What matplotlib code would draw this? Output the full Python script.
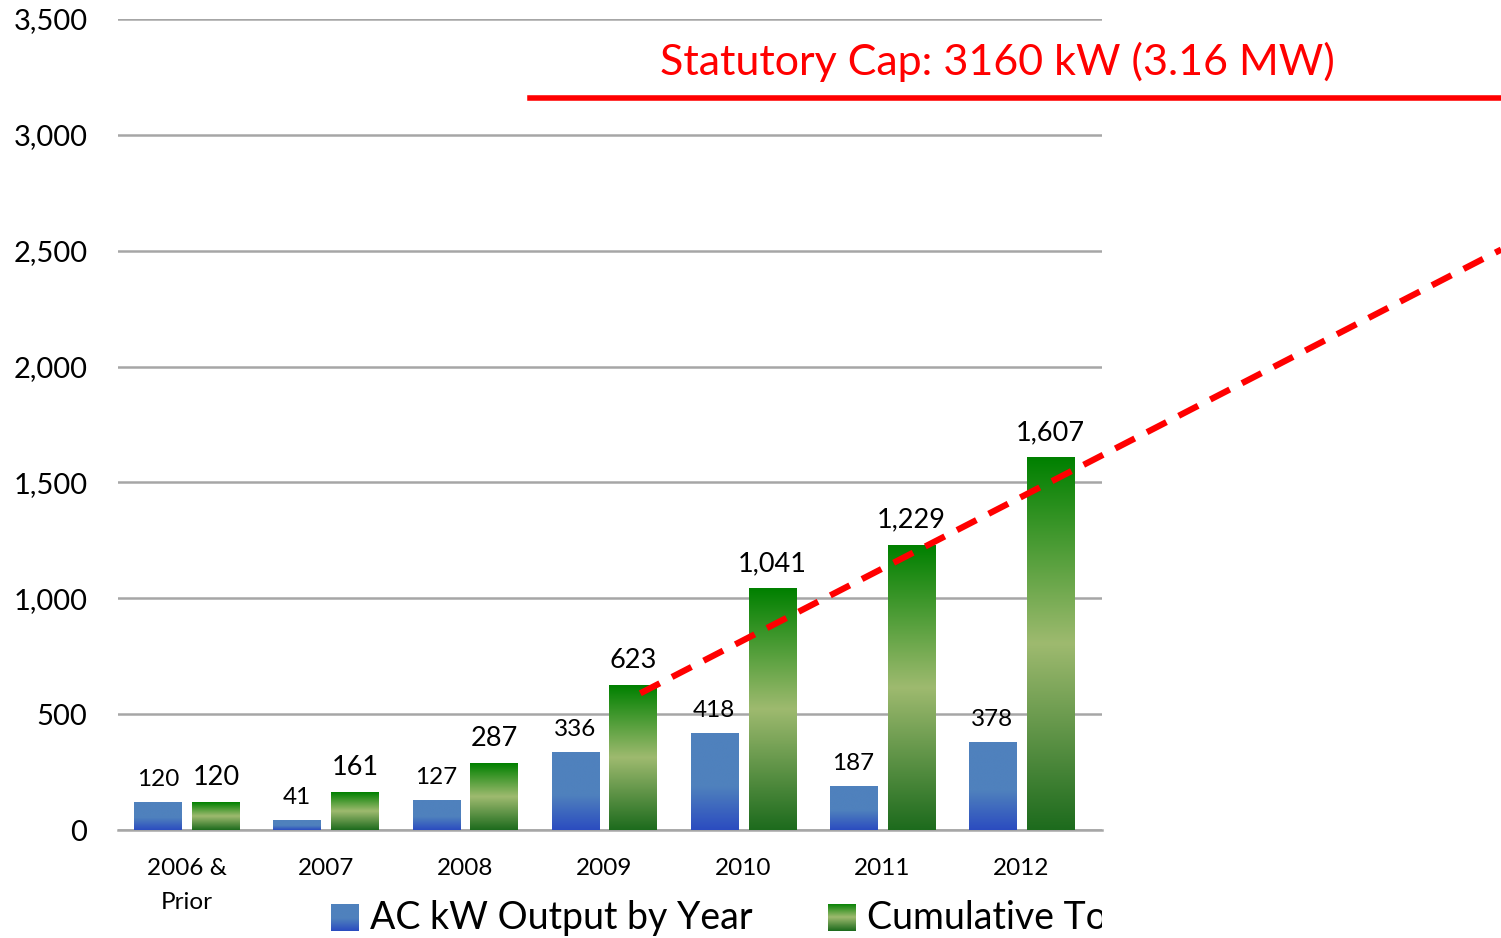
import matplotlib.pyplot as plt
import numpy as np
from matplotlib.colors import LinearSegmentedColormap
from matplotlib.transforms import Bbox, TransformedBbox

plt.rcParams['font.family'] = ['Lato', 'DejaVu Sans']

categories = ['2006 &\nPrior', '2007', '2008', '2009', '2010', '2011', '2012']
annual_kw = [120, 41, 127, 336, 418, 187, 378]
cumulative_kw = [120, 161, 287, 623, 1041, 1229, 1607]
cap_kw = 3160
cap_label = 'Statutory Cap: 3160 kW (3.16 MW)'
# projected trend line (category position, kW)
trend_x = [3.26, 9.45]
trend_y = [590, 2505]
legend_labels = ['AC kW Output by Year', 'Cumulative Total']

blue_cmap = LinearSegmentedColormap.from_list(
    'blue', [(0.0, '#2b4cc0'), (0.45, '#4f81bd'), (1.0, '#4f81bd')])
green_cmap = LinearSegmentedColormap.from_list(
    'green', [(0.0, '#1d6b1d'), (0.5, '#9eba6f'), (1.0, '#008000')])


def gradient_bar(ax, x, width, height, cmap):
    grad = np.linspace(1, 0, 256).reshape(-1, 1)
    ax.imshow(grad, cmap=cmap, aspect='auto', interpolation='bilinear',
              extent=[x - width / 2, x + width / 2, 0, height], zorder=3)


fig = plt.figure(figsize=(15.01, 9.38), dpi=100)
ax = fig.add_axes([0.0786, 0.1151, 0.6556, 0.8646])

width = 0.34
offset = 0.208
pos = np.arange(len(categories))

for i in pos:
    gradient_bar(ax, i - offset, width, annual_kw[i], blue_cmap)
    gradient_bar(ax, i + offset, width, cumulative_kw[i], green_cmap)
    ax.annotate(f'{annual_kw[i]:,}', (i - offset, annual_kw[i]),
                xytext=(0, 9), textcoords='offset points',
                ha='center', va='bottom', fontsize=17.5, zorder=5)
    ax.annotate(f'{cumulative_kw[i]:,}', (i + offset, cumulative_kw[i]),
                xytext=(0, 9), textcoords='offset points',
                ha='center', va='bottom', fontsize=19.5, zorder=5)

ax.set_xlim(-0.496, 6.58)
ax.set_ylim(0, 3500)
ax.set_yticks(np.arange(0, 3501, 500))
ax.set_yticklabels([f'{v:,}' for v in range(0, 3501, 500)], fontsize=21)
ax.set_xticks(pos)
ax.set_xticklabels(categories, fontsize=17.5, linespacing=1.75)
ax.tick_params(length=0, axis='y', pad=22)
ax.tick_params(length=0, axis='x', pad=20)
ax.yaxis.grid(True, color='#a6a6a6', linewidth=1.8, zorder=0)
ax.set_axisbelow(True)
for s in ['left', 'right', 'top']:
    ax.spines[s].set_visible(False)
ax.spines['bottom'].set_color('#a6a6a6')
ax.spines['bottom'].set_linewidth(1.8)

# cap line and trend line run past the plot area
ax.plot([2.47, 9.5], [cap_kw, cap_kw], color='#ff0000', linewidth=4,
        clip_on=False, zorder=6)
ax.text(5.83, 3314, cap_label, color='#ff0000', fontsize=31,
        ha='center', va='center', clip_on=False)
ax.plot(trend_x, trend_y, color='#ff0000', linewidth=4.5,
        linestyle=(0, (3.5, 2.2)), clip_on=False, zorder=6)

# legend drawn by hand so the second label is cut at the plot edge
for (lx, cmap, label) in [(0.2205, blue_cmap, legend_labels[0]),
                          (0.5518, green_cmap, legend_labels[1])]:
    lax = fig.add_axes([lx, 0.0075, 0.018, 0.029])
    lax.imshow(np.linspace(1, 0, 64).reshape(-1, 1), cmap=cmap,
               aspect='auto')
    lax.axis('off')
    t = fig.text(lx + 0.026, 0.021, label, fontsize=27, va='center')
    t.set_clip_box(TransformedBbox(Bbox([[0, 0], [0.7345, 1]]),
                                   fig.transFigure))
    t.set_clip_on(True)

fig.savefig('out.png', dpi=100)
